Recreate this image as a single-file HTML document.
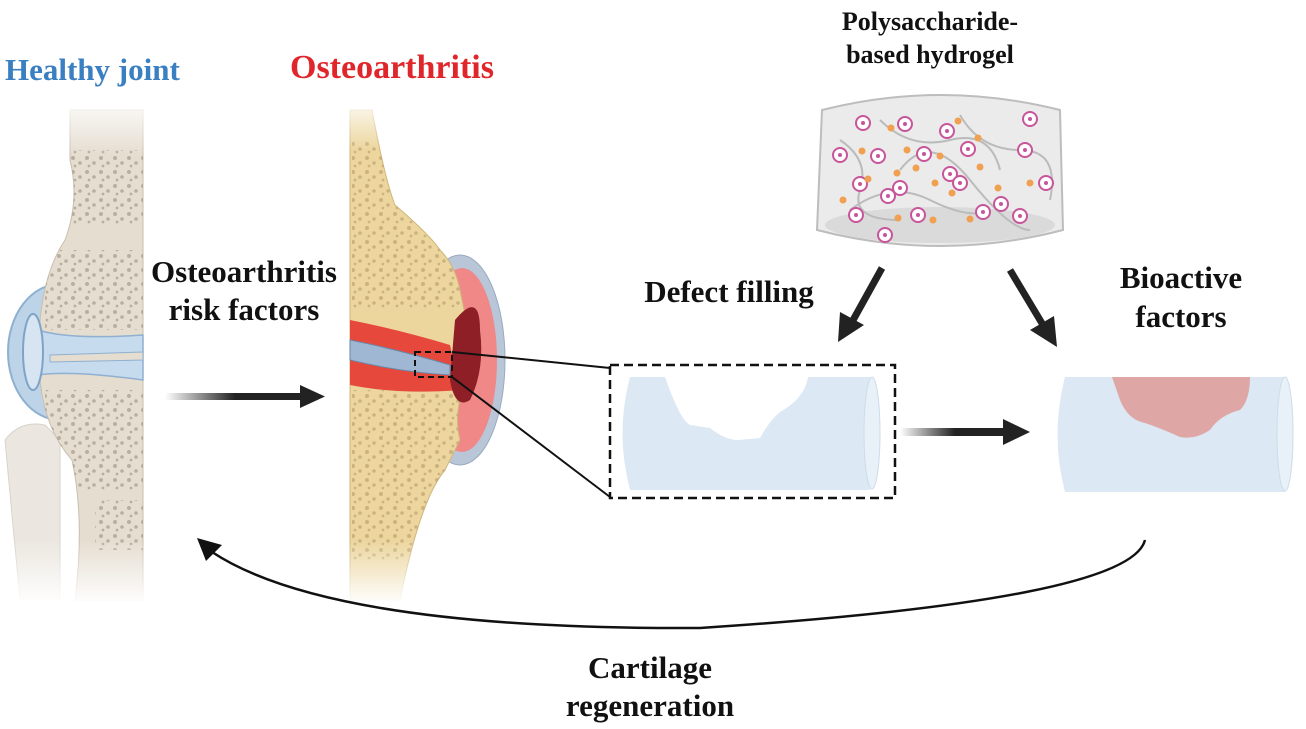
<!DOCTYPE html>
<html><head><meta charset="utf-8"><style>
html,body{margin:0;padding:0;background:#fff;width:1306px;height:729px;overflow:hidden}
svg{display:block}
text{font-family:"Liberation Serif",serif;font-weight:bold;fill:#111}
</style></head><body>
<svg width="1306" height="729" viewBox="0 0 1306 729" xmlns="http://www.w3.org/2000/svg">
<defs>
<linearGradient id="fadeTop" x1="0" y1="0" x2="0" y2="1">
<stop offset="0" stop-color="#fff" stop-opacity="1"/><stop offset="1" stop-color="#fff" stop-opacity="0"/></linearGradient>
<linearGradient id="fadeBot" x1="0" y1="0" x2="0" y2="1">
<stop offset="0" stop-color="#fff" stop-opacity="0"/><stop offset="1" stop-color="#fff" stop-opacity="1"/></linearGradient>
<linearGradient id="arrG" x1="0" y1="0" x2="1" y2="0">
<stop offset="0" stop-color="#222" stop-opacity="0"/><stop offset="0.5" stop-color="#222"/><stop offset="1" stop-color="#222"/></linearGradient>
<pattern id="dots" width="14" height="14" patternUnits="userSpaceOnUse">
<circle cx="3" cy="4" r="2" fill="#9c8f80" opacity=".6"/><circle cx="10" cy="9" r="1.8" fill="#9c8f80" opacity=".6"/><circle cx="5" cy="12" r="1.4" fill="#9c8f80" opacity=".6"/></pattern>
<pattern id="dotsY" width="14" height="14" patternUnits="userSpaceOnUse">
<circle cx="3" cy="4" r="2" fill="#b8996a" opacity=".6"/><circle cx="10" cy="9" r="1.8" fill="#b8996a" opacity=".6"/><circle cx="5" cy="12" r="1.4" fill="#b8996a" opacity=".6"/></pattern>
<path id="hb" d="M70 110 L143 110 L143 600 L75 600 Q85 520 72 460 Q45 430 40 380 L40 320 Q45 270 65 240 Q80 200 70 160 Z"/>
<path id="ob" d="M350 110 L372 110 Q385 180 395 205 Q430 235 440 250 Q455 265 460 290 L470 340 Q470 380 460 400 Q455 420 460 440 L445 470 Q420 500 400 600 L350 600 Z"/>
<clipPath id="hc"><use href="#hb"/></clipPath>
<clipPath id="oc"><use href="#ob"/></clipPath>
</defs>

<!-- Healthy joint -->
<path d="M5 440 Q20 420 45 425 L60 440 L60 600 L20 600 Z" fill="#ebe7e0" stroke="#d8d3ca"/>
<ellipse cx="60" cy="352" rx="52" ry="68" fill="#bcd3e8" stroke="#8fb0d0" stroke-width="2"/>
<use href="#hb" fill="#e5ddd0" stroke="#c9bfae"/>
<g clip-path="url(#hc)">
<rect x="70" y="150" width="73" height="75" fill="url(#dots)"/>
<rect x="45" y="250" width="98" height="80" fill="url(#dots)"/>
<rect x="45" y="390" width="98" height="100" fill="url(#dots)"/>
<rect x="95" y="500" width="48" height="50" fill="url(#dots)"/>
</g>
<path d="M38 330 Q70 340 143 335 L143 380 Q70 370 38 375 Z" fill="#c7dbee" stroke="#8fb0d0" stroke-width="1.5"/>
<path d="M50 355 L143 352 L143 360 L50 362 Z" fill="#e5ddd0" stroke="#8fb0d0"/>
<ellipse cx="33" cy="352" rx="10" ry="38" fill="#d7e5f2" stroke="#7fa3c8" stroke-width="2"/>
<rect x="0" y="95" width="150" height="60" fill="url(#fadeTop)"/>
<rect x="0" y="540" width="150" height="65" fill="url(#fadeBot)"/>

<!-- OA joint -->
<ellipse cx="460" cy="360" rx="45" ry="105" fill="#b9c6d8" stroke="#9aaac0"/>
<ellipse cx="462" cy="360" rx="35" ry="92" fill="#f08888"/>
<use href="#ob" fill="#ecd69e" stroke="#cfb77c"/>
<g clip-path="url(#oc)">
<rect x="352" y="140" width="110" height="170" fill="url(#dotsY)"/>
<rect x="352" y="390" width="110" height="170" fill="url(#dotsY)"/>
</g>
<path d="M350 320 Q400 330 450 345 L460 390 Q400 395 350 385 Z" fill="#e53a30" opacity=".9"/>
<path d="M350 340 Q400 350 450 365 L450 375 Q400 372 350 360 Z" fill="#9fb7d3" stroke="#6a87aa"/>
<path d="M455 320 Q480 290 480 330 Q485 370 470 400 Q455 410 450 380 Z" fill="#8e1f26"/>
<rect x="340" y="95" width="140" height="55" fill="url(#fadeTop)"/>
<rect x="340" y="540" width="130" height="65" fill="url(#fadeBot)"/>
<rect x="415" y="352" width="37" height="25" fill="none" stroke="#111" stroke-width="2" stroke-dasharray="6,4"/>
<line x1="452" y1="352" x2="610" y2="368" stroke="#111" stroke-width="2"/>
<line x1="452" y1="377" x2="610" y2="497" stroke="#111" stroke-width="2"/>

<!-- left arrow -->
<rect x="165" y="393" width="140" height="7" fill="url(#arrG)"/>
<polygon points="300,385 325,396.5 300,408" fill="#222"/>

<!-- dashed box tube -->
<rect x="610" y="365" width="285" height="133" fill="none" stroke="#111" stroke-width="2.5" stroke-dasharray="9,5"/>
<path d="M630 377 L665 377 Q680 420 690 425 L710 428 Q725 440 738 440 L760 438 Q770 420 780 412 Q805 398 808 377 L870 377 Q885 430 870 490 L630 490 Q615 433 630 377 Z" fill="#dce8f4"/>
<ellipse cx="872" cy="433" rx="8" ry="56" fill="#e8f0f8" stroke="#cddcec"/>

<!-- middle arrow -->
<rect x="900" y="428" width="110" height="8" fill="url(#arrG)"/>
<polygon points="1003,419 1030,432 1003,445" fill="#222"/>

<!-- right tube -->
<path d="M1065 377 L1285 377 Q1300 435 1285 492 L1065 492 Q1050 435 1065 377 Z" fill="#dce8f4"/>
<ellipse cx="1285" cy="434" rx="8" ry="57" fill="#e8f0f8" stroke="#cddcec"/>
<path d="M1112 377 L1250 377 Q1250 400 1240 410 Q1220 415 1210 430 Q1195 440 1180 437 Q1160 428 1145 423 Q1128 420 1120 400 Z" fill="#dfa6a6"/>

<!-- hydrogel -->
<path d="M822 110 Q940 80 1060 110 L1063 230 Q940 262 817 230 Z" fill="#ebebeb" stroke="#bdbdbd" stroke-width="2"/>
<ellipse cx="940" cy="225" rx="115" ry="18" fill="#dadada"/>
<g fill="none" stroke="#bbb" stroke-width="2">
<path d="M840 140 Q870 160 860 190 T900 220"/><path d="M880 120 Q910 150 950 140 T1000 170"/><path d="M960 115 Q980 150 1020 150 T1050 200"/><path d="M850 210 Q890 180 930 200 T990 210"/><path d="M900 170 Q930 130 970 180 T1030 230"/></g>
<g fill="#fff" stroke="#c8559a" stroke-width="2">
<circle cx="863" cy="123" r="7"/><circle cx="905" cy="124" r="7"/><circle cx="947" cy="131" r="7"/><circle cx="1030" cy="119" r="7"/><circle cx="840" cy="155" r="7"/><circle cx="878" cy="156" r="7"/><circle cx="924" cy="154" r="7"/><circle cx="968" cy="149" r="7"/><circle cx="1025" cy="150" r="7"/><circle cx="950" cy="174" r="7"/><circle cx="960" cy="183" r="7"/><circle cx="860" cy="184" r="7"/><circle cx="900" cy="188" r="7"/><circle cx="888" cy="196" r="7"/><circle cx="1046" cy="183" r="7"/><circle cx="1001" cy="204" r="7"/><circle cx="856" cy="215" r="7"/><circle cx="918" cy="215" r="7"/><circle cx="983" cy="212" r="7"/><circle cx="1020" cy="216" r="7"/><circle cx="885" cy="235" r="7"/></g>
<g fill="#c8559a"><circle cx="863" cy="123" r="2"/><circle cx="905" cy="124" r="2"/><circle cx="947" cy="131" r="2"/><circle cx="1030" cy="119" r="2"/><circle cx="840" cy="155" r="2"/><circle cx="878" cy="156" r="2"/><circle cx="924" cy="154" r="2"/><circle cx="968" cy="149" r="2"/><circle cx="1025" cy="150" r="2"/><circle cx="950" cy="174" r="2"/><circle cx="960" cy="183" r="2"/><circle cx="860" cy="184" r="2"/><circle cx="900" cy="188" r="2"/><circle cx="888" cy="196" r="2"/><circle cx="1046" cy="183" r="2"/><circle cx="1001" cy="204" r="2"/><circle cx="856" cy="215" r="2"/><circle cx="918" cy="215" r="2"/><circle cx="983" cy="212" r="2"/><circle cx="1020" cy="216" r="2"/><circle cx="885" cy="235" r="2"/></g>
<g fill="#f0a050"><circle cx="891" cy="128" r="3.5"/><circle cx="958" cy="121" r="3.5"/><circle cx="862" cy="151" r="3.5"/><circle cx="907" cy="150" r="3.5"/><circle cx="940" cy="156" r="3.5"/><circle cx="978" cy="138" r="3.5"/><circle cx="897" cy="173" r="3.5"/><circle cx="916" cy="168" r="3.5"/><circle cx="980" cy="167" r="3.5"/><circle cx="868" cy="179" r="3.5"/><circle cx="935" cy="183" r="3.5"/><circle cx="952" cy="193" r="3.5"/><circle cx="998" cy="188" r="3.5"/><circle cx="1030" cy="183" r="3.5"/><circle cx="843" cy="200" r="3.5"/><circle cx="898" cy="218" r="3.5"/><circle cx="933" cy="220" r="3.5"/><circle cx="970" cy="219" r="3.5"/></g>

<!-- hydrogel arrows -->
<line x1="882" y1="268" x2="852" y2="322" stroke="#222" stroke-width="7"/>
<polygon points="838,342 840,312 864,325" fill="#222"/>
<line x1="1010" y1="270" x2="1043" y2="325" stroke="#222" stroke-width="7"/>
<polygon points="1057,347 1030,330 1054,316" fill="#222"/>

<!-- bottom curve -->
<path d="M1145 540 Q1130 600 700 628 Q330 630 212 552" fill="none" stroke="#111" stroke-width="2.5"/>
<polygon points="197,538 222,545 206,561" fill="#111"/>

<!-- labels -->
<text x="5" y="80" font-size="31" style="fill:#3a7fc1">Healthy joint</text>
<text x="290" y="78" font-size="34" style="fill:#e0262b">Osteoarthritis</text>
<text x="930" y="30" font-size="26" text-anchor="middle">Polysaccharide-</text>
<text x="930" y="63" font-size="26" text-anchor="middle">based hydrogel</text>
<text x="244" y="282" font-size="31" text-anchor="middle">Osteoarthritis</text>
<text x="244" y="320" font-size="31" text-anchor="middle">risk factors</text>
<text x="729" y="302" font-size="31" text-anchor="middle">Defect filling</text>
<text x="1181" y="288" font-size="31" text-anchor="middle">Bioactive</text>
<text x="1181" y="327" font-size="31" text-anchor="middle">factors</text>
<text x="650" y="678" font-size="31" text-anchor="middle">Cartilage</text>
<text x="650" y="716" font-size="31" text-anchor="middle">regeneration</text>
</svg>
</body></html>
